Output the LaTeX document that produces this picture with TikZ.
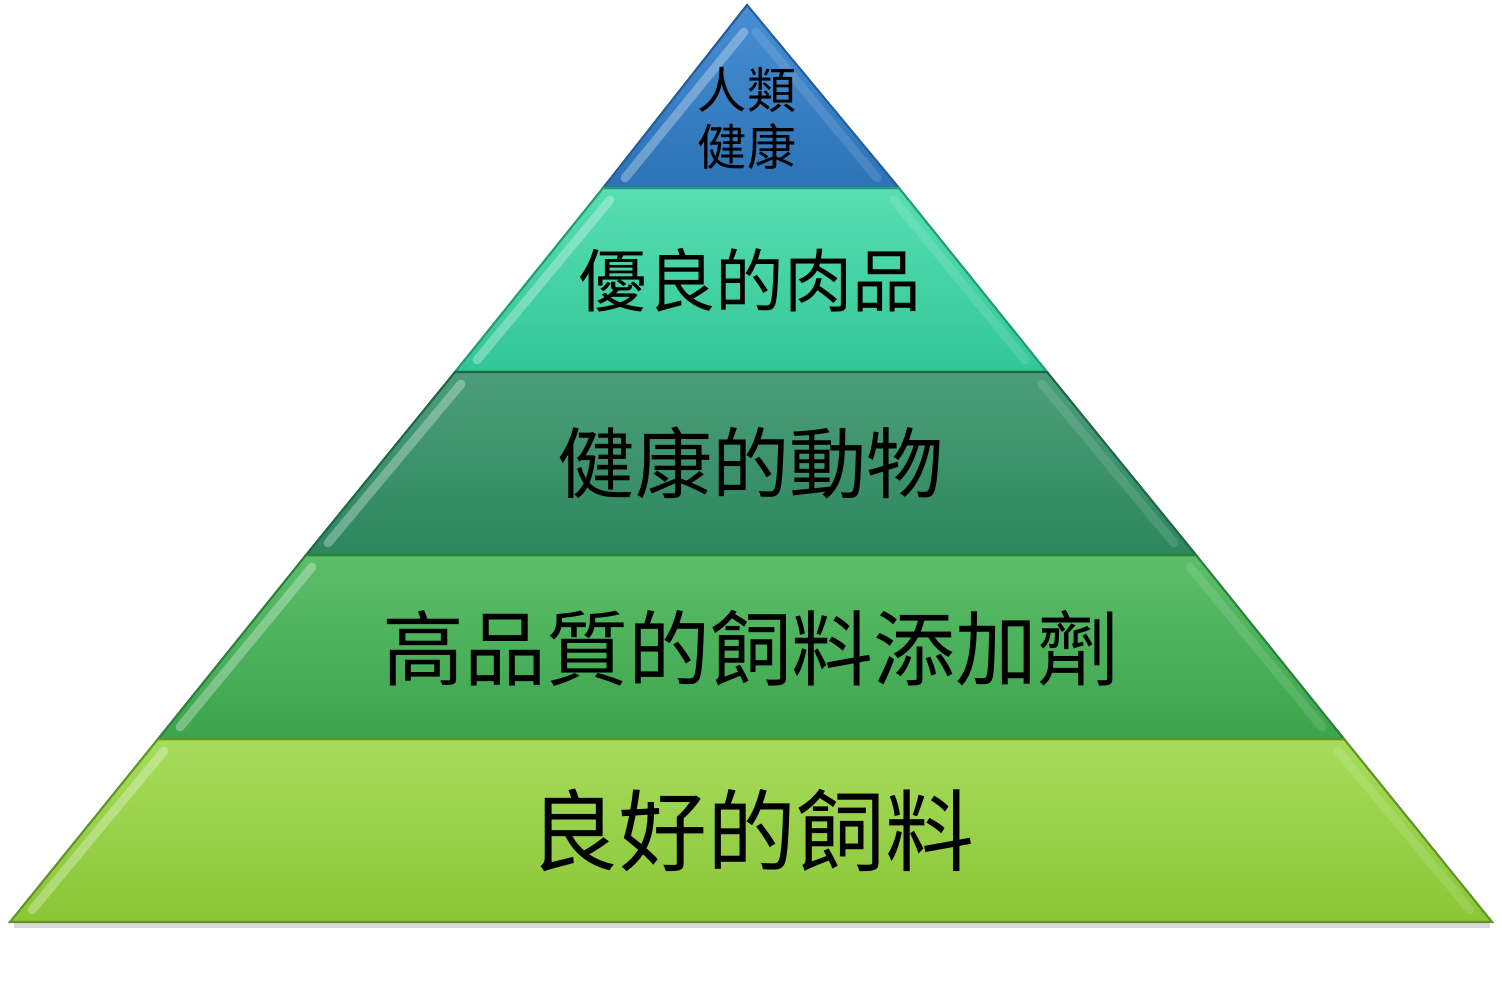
\documentclass[tikz,border=0pt]{standalone}
\usepackage{fontspec}
\newfontfamily\cjk{Noto Sans CJK TC}
\definecolor{sapphire}{RGB}{72, 142, 210}
\definecolor{cobalt}{RGB}{44, 114, 182}
\definecolor{navyrim}{RGB}{38, 96, 156}
\definecolor{mint}{RGB}{88, 222, 178}
\definecolor{jade}{RGB}{50, 198, 150}
\definecolor{jaderim}{RGB}{36, 156, 116}
\definecolor{fern}{RGB}{76, 158, 122}
\definecolor{pine}{RGB}{44, 134, 94}
\definecolor{pinerim}{RGB}{32, 104, 70}
\definecolor{leaf}{RGB}{92, 190, 106}
\definecolor{grass}{RGB}{60, 164, 76}
\definecolor{grassrim}{RGB}{44, 130, 58}
\definecolor{lime}{RGB}{166, 220, 92}
\definecolor{olive}{RGB}{138, 198, 54}
\definecolor{olivrim}{RGB}{98, 148, 40}

\begin{document}
\begin{tikzpicture}[
    tier/.style={font=\cjk\fontsize{#1}{#1}\selectfont, inner sep=0pt},
    rim/.style={line width=0.6pt},
    glint/.style={white, line width=2.5pt, opacity=0.3, line cap=round}
  ]
            \useasboundingbox (0,0) rectangle (15.02,10);
            % shadow under the base
            \fill[black!15]                                     (0.14,0.72) rectangle (14.90,0.78);
            % tiers, top to bottom
            \shade[top color=sapphire, bottom color=cobalt]     (7.47,9.95) -- (8.99,8.12) -- (6.03,8.12) -- cycle;
            \shade[top color=mint, bottom color=jade]           (6.03,8.12) -- (8.99,8.12) -- (10.47,6.28) -- (4.55,6.28) -- cycle;
            \shade[top color=fern, bottom color=pine]           (4.55,6.28) -- (10.47,6.28) -- (11.96,4.45) -- (3.06,4.45) -- cycle;
            \shade[top color=leaf, bottom color=grass]          (3.06,4.45) -- (11.96,4.45) -- (13.44,2.61) -- (1.58,2.61) -- cycle;
            \shade[top color=lime, bottom color=olive]          (1.58,2.61) -- (13.44,2.61) -- (14.92,0.78) -- (0.10,0.78) -- cycle;
            % bevel glints
            \draw[glint] (6.25,8.22) -- (7.44,9.68);
            \draw[glint, opacity=0.12] (8.77,8.22) -- (7.56,9.68);
            \draw[glint] (4.77,6.40) -- (6.10,8.00);
            \draw[glint, opacity=0.12] (10.25,6.40) -- (8.94,8.00);
            \draw[glint] (3.28,4.57) -- (4.61,6.16);
            \draw[glint, opacity=0.12] (11.74,4.57) -- (10.42,6.16);
            \draw[glint] (1.80,2.73) -- (3.12,4.33);
            \draw[glint, opacity=0.12] (13.22,2.73) -- (11.90,4.33);
            \draw[glint] (0.32,0.90) -- (1.64,2.49);
            \draw[glint, opacity=0.12] (14.70,0.90) -- (13.38,2.49);
            % outlines
            \draw[rim, navyrim]  (7.47,9.95) -- (8.99,8.12) -- (6.03,8.12) -- cycle;
            \draw[rim, jaderim]  (6.03,8.12) -- (8.99,8.12) -- (10.47,6.28) -- (4.55,6.28) -- cycle;
            \draw[rim, pinerim]  (4.55,6.28) -- (10.47,6.28) -- (11.96,4.45) -- (3.06,4.45) -- cycle;
            \draw[rim, grassrim] (3.06,4.45) -- (11.96,4.45) -- (13.44,2.61) -- (1.58,2.61) -- cycle;
            \draw[rim, olivrim]  (1.58,2.61) -- (13.44,2.61) -- (14.92,0.78) -- (0.10,0.78) -- cycle;
            % labels
            \node[tier=14, align=center, font=\cjk\fontsize{14}{16.2}\selectfont] (human) at (7.47,8.82) {人類\\健康};
            \node[tier=19.5] (meat)    at (7.50,7.20) {優良的肉品};
            \node[tier=22]   (animal)  at (7.51,5.37) {健康的動物};
            \node[tier=23.3] (additive) at (7.51,3.52) {高品質的飼料添加劑};
            \node[tier=25.3] (feed)    at (7.52,1.70) {良好的飼料};
        \end{tikzpicture}
\end{document}
